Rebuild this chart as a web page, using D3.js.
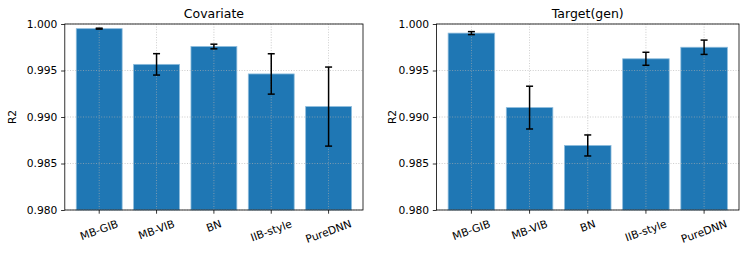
<!DOCTYPE html>
<html>
<head>
<meta charset="utf-8">
<script src="https://cdn.jsdelivr.net/npm/d3@7"></script>
<style>
  body { margin: 0; background: #fff; }
  text { font-family: "DejaVu Sans", sans-serif; fill: #000; }
</style>
</head>
<body>
<svg id="chart" width="747" height="255"></svg>
<script>
// data
const models = ["MB-GIB", "MB-VIB", "BN", "IIB-style", "PureDNN"];
const covariateR2 = [0.99950, 0.99566, 0.99758, 0.99463, 0.99112];
const covariateErr = [0.00005, 0.00115, 0.00025, 0.00217, 0.00425];
const targetR2 = [0.99902, 0.99101, 0.98694, 0.99626, 0.99750];
const targetErr = [0.00016, 0.00230, 0.00113, 0.00070, 0.00077];
const yTicks = [0.980, 0.985, 0.990, 0.995, 1.000];

const panels = [
  { title: "Covariate", values: covariateR2, errs: covariateErr, left: 64.8, right: 363, ylabX: 15.5 },
  { title: "Target(gen)", values: targetR2, errs: targetErr, left: 436.5, right: 739, ylabX: 395.5 }
];

const svg = d3.select("#chart");
const plotTop = 24, plotBottom = 210;
const tickFont = "10.7px";

panels.forEach(p => {
  const g = svg.append("g");

  const x = d3.scaleLinear().domain([-0.6, models.length - 0.4]).range([p.left, p.right]);
  const y = d3.scaleLinear().domain([0.98, 1.0]).range([plotBottom, plotTop]);
  const bw = x(0.8) - x(0);

  // bars
  g.selectAll("rect.bar")
    .data(p.values)
    .enter().append("rect")
    .attr("class", "bar")
    .attr("x", (d, i) => x(i) - bw / 2)
    .attr("y", d => y(d))
    .attr("width", bw)
    .attr("height", d => plotBottom - y(d))
    .style("fill", "#1f77b4")
    .style("stroke", "#8dbcdc")
    .style("stroke-width", 0.8);

  // grid (on top of bars)
  g.selectAll("line.hgrid")
    .data(yTicks)
    .enter().append("line")
    .attr("x1", p.left).attr("x2", p.right)
    .attr("y1", d => y(d)).attr("y2", d => y(d))
    .style("stroke", "#b0b0b0")
    .style("stroke-width", 0.8)
    .style("stroke-dasharray", "1,1.6")
    .style("opacity", 0.8);

  g.selectAll("line.vgrid")
    .data(models)
    .enter().append("line")
    .attr("x1", (d, i) => x(i)).attr("x2", (d, i) => x(i))
    .attr("y1", plotTop).attr("y2", plotBottom)
    .style("stroke", "#b0b0b0")
    .style("stroke-width", 0.8)
    .style("stroke-dasharray", "1,1.6")
    .style("opacity", 0.8);

  // error bars
  const eb = g.selectAll("g.err")
    .data(p.values.map((v, i) => ({ v, e: p.errs[i], i })))
    .enter().append("g");
  eb.append("line")
    .attr("x1", d => x(d.i)).attr("x2", d => x(d.i))
    .attr("y1", d => y(d.v + d.e)).attr("y2", d => y(d.v - d.e))
    .style("stroke", "#000").style("stroke-width", 1.5);
  [1, -1].forEach(s => {
    eb.append("line")
      .attr("x1", d => x(d.i) - 3.5).attr("x2", d => x(d.i) + 3.5)
      .attr("y1", d => y(d.v + s * d.e)).attr("y2", d => y(d.v + s * d.e))
      .style("stroke", "#000").style("stroke-width", 1.5);
  });

  // frame
  g.append("rect")
    .attr("x", p.left).attr("y", plotTop)
    .attr("width", p.right - p.left).attr("height", plotBottom - plotTop)
    .style("fill", "none").style("stroke", "#000").style("stroke-width", 0.8);

  // y axis
  const yAxis = g.append("g")
    .attr("transform", `translate(${p.left},0)`)
    .call(d3.axisLeft(y).tickValues(yTicks).tickFormat(d3.format(".3f")).tickSize(3.7).tickPadding(3.7));
  yAxis.select(".domain").remove();
  yAxis.selectAll("text").style("font-size", tickFont).style("font-family", "DejaVu Sans");
  yAxis.selectAll("line").style("stroke-width", 0.8);

  // x ticks
  g.selectAll("line.xtick")
    .data(models)
    .enter().append("line")
    .attr("x1", (d, i) => x(i)).attr("x2", (d, i) => x(i))
    .attr("y1", plotBottom).attr("y2", plotBottom + 3.7)
    .style("stroke", "#000").style("stroke-width", 0.8);

  // x tick labels rotated 20deg, bbox centred under tick
  const ang = 20 * Math.PI / 180;
  g.selectAll("text.xlab")
    .data(models)
    .enter().append("text")
    .attr("class", "xlab")
    .style("font-size", tickFont)
    .attr("text-anchor", "middle")
    .attr("dominant-baseline", "central")
    .text(d => d)
    .each(function (d, i) {
      const w = this.getComputedTextLength();
      const h = 12.4;
      const bh = w * Math.sin(ang) + h * Math.cos(ang);
      const cy = plotBottom + 7.6 + bh / 2;
      d3.select(this).attr("transform", `translate(${x(i)},${cy}) rotate(-20)`);
    });

  // title
  g.append("text")
    .attr("x", (p.left + p.right) / 2)
    .attr("y", plotTop - 6.2)
    .attr("text-anchor", "middle")
    .style("font-size", "12.5px")
    .text(p.title);

  // y label
  g.append("text")
    .attr("transform", `translate(${p.ylabX},${(plotTop + plotBottom) / 2}) rotate(-90)`)
    .attr("text-anchor", "middle")
    .style("font-size", tickFont)
    .text("R2");
});
</script>
</body>
</html>
